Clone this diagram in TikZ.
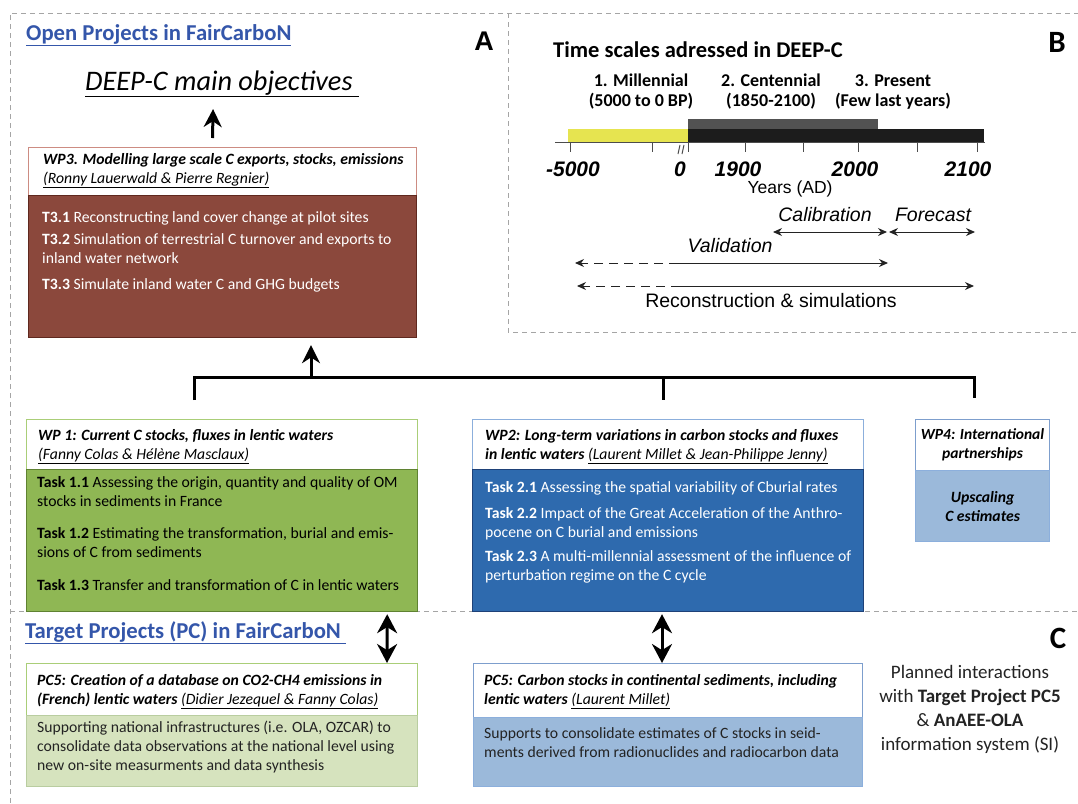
\documentclass[tikz,border=0pt]{standalone}
\usepackage{fontspec}
\setmainfont{Carlito}
\newfontfamily\arialfont{Liberation Sans}
\usetikzlibrary{arrows.meta,positioning,calc}

\definecolor{linkblue}{RGB}{52,86,170}
\definecolor{panelgrey}{RGB}{165,165,165}
\definecolor{wp3fill}{RGB}{139,72,60}
\definecolor{wp3edge}{RGB}{95,40,30}
\definecolor{wp3line}{RGB}{205,140,130}
\definecolor{wp1fill}{RGB}{143,183,84}
\definecolor{wp1edge}{RGB}{95,130,50}
\definecolor{wp1line}{RGB}{170,206,120}
\definecolor{wp2fill}{RGB}{46,106,174}
\definecolor{wp2edge}{RGB}{30,65,120}
\definecolor{wp2line}{RGB}{140,175,220}
\definecolor{lightblue}{RGB}{155,185,218}
\definecolor{lightblueedge}{RGB}{125,158,205}
\definecolor{lightgreen}{RGB}{214,227,190}
\definecolor{lightgreenedge}{RGB}{185,205,160}
\definecolor{millyellow}{RGB}{230,228,80}
\definecolor{centgrey}{RGB}{82,82,82}
\definecolor{presblack}{RGB}{28,28,28}
\definecolor{textgrey}{RGB}{35,35,35}

\begin{document}
\begin{tikzpicture}[x=1pt, y=-1pt,
    panel/.style={draw=panelgrey, dash pattern=on 5pt off 4pt, line width=1pt},
    headbox/.style={draw, fill=white, line width=1pt, anchor=north west, inner sep=0pt},
    bodybox/.style={draw, line width=1.2pt, anchor=north west, inner sep=0pt},
    headtext/.style={anchor=north west, align=left, inner sep=0pt, font=\fontsize{15.7}{19}\selectfont},
    bodytext/.style={anchor=north west, align=left, inner sep=0pt, font=\fontsize{15.7}{19}\selectfont},
    linktitle/.style={anchor=base west, inner sep=0pt, text=linkblue, font=\fontsize{22.7}{26}\selectfont\bfseries},
    panelletter/.style={anchor=base, inner sep=0pt, font=\fontsize{31}{31}\selectfont\bfseries},
    bigarrow/.style={line width=3pt, -{Stealth[length=18pt,width=18pt]}},
    dblarrow/.style={line width=3pt, {Stealth[length=19pt,width=20pt]}-{Stealth[length=19pt,width=20pt]}},
    bracket/.style={line width=3pt},
    axtick/.style={draw=gray!60!black, line width=1pt},
    yearlabel/.style={anchor=base, inner sep=0pt, font=\arialfont\fontsize{21}{21}\selectfont\bfseries\itshape},
    phaselabel/.style={anchor=base, align=center, inner sep=0pt, font=\fontsize{18}{20}\selectfont\bfseries},
    spanlabel/.style={anchor=base, inner sep=0pt, font=\arialfont\fontsize{19.5}{20}\selectfont\itshape},
    tlarrow/.style={line width=1pt, draw=textgrey, -{Stealth[length=9pt,width=8pt]}},
    tlboth/.style={line width=1pt, draw=textgrey, {Stealth[length=9pt,width=8pt]}-{Stealth[length=9pt,width=8pt]}},
    tldash/.style={dash pattern=on 9pt off 6pt},
  ]
  \useasboundingbox (0,0) rectangle (1078,803);

  % panel borders
  \draw[panel] (10,803) -- (10,13) -- (1078,13);
  \draw[panel] (508,13) -- (508,332) -- (1078,332);
  \draw[panel] (10,611) -- (1078,611);

  % ---- panel A ----
  \node[linktitle] (openproj) at (26,40) {\underline{Open Projects in FairCarboN}};
  \node[anchor=base, inner sep=0pt, font=\arialfont\fontsize{27}{27}\selectfont\bfseries] (letterA) at (484,50) {A};
  \node[anchor=base west, inner sep=0pt, font=\fontsize{28.3}{30}\selectfont\itshape] (title) at (85,90) {\underline{DEEP-C main objectives\ }};

  \node[headbox, draw=wp3line, minimum width=388pt, minimum height=48pt] (wp3head) at (28,147) {};
  \node[bodybox, draw=wp3edge, fill=wp3fill, minimum width=388pt, minimum height=142pt] (wp3body) at (28,195) {};
  \node[headtext] (wp3title) at ($(wp3head.north west)+(15,6)$)
    {\textbf{\textit{WP3. Modelling large scale C exports, stocks, emissions}}\\
     \textit{\underline{(Ronny Lauerwald \& Pierre Regnier)}}};
  \node[bodytext, text=white] (wp3tasks) at ($(wp3body.north west)+(14,16)$)
    {\textbf{T3.1} Reconstructing land cover change at pilot sites\\[3pt]
     \textbf{T3.2} Simulation of terrestrial C turnover and exports to\\
     inland water network\\[7pt]
     \textbf{T3.3} Simulate inland water C and GHG budgets};

  \draw[bigarrow] ($(wp3head.north)+(-10,-9)$) -- ($(title.south)+(-9,12)$);

  % ---- panel B: time scales ----
  \node[anchor=base west, inner sep=0pt, font=\fontsize{22.5}{24}\selectfont\bfseries] (scaletitle) at (553,57) {Time scales adressed in DEEP-C};
  \node[panelletter] (letterB) at (1057,52) {B};

  \node[phaselabel] (millennial) at (641,106) {1. Millennial\\(5000 to 0 BP)};
  \node[phaselabel] (centennial) at (771,106) {2. Centennial\\(1850-2100)};
  \node[phaselabel] (present) at (893,106) {3. Present\\(Few last years)};

  \draw[axtick] (555,142) -- (985,142);
  \fill[millyellow] (568,129) rectangle (688,142);
  \fill[centgrey] (688,119) rectangle (878,129);
  \fill[presblack] (688,129) rectangle (984,142);
  \foreach \tx in {570,652,688,745,803,858,917,977}
    \draw[axtick] (\tx,142) -- (\tx,152);
  \draw[axtick] (680,145) -- (678,154);
  \draw[axtick] (684,145) -- (682,154);

  \node[yearlabel] (y5000) at (573,176) {-5000};
  \node[yearlabel] (y0) at (680,176) {0};
  \node[yearlabel] (y1900) at (738,176) {1900};
  \node[yearlabel] (y2000) at (855,176) {2000};
  \node[yearlabel] (y2100) at (968,176) {2100};
  \node[anchor=base, inner sep=0pt, font=\arialfont\fontsize{17.5}{17}\selectfont] (yearsad) at (790,193) {Years (AD)};

  \node[spanlabel] (calib) at (825,221) {Calibration};
  \node[spanlabel] (forecast) at (933,221) {Forecast};
  \node[spanlabel] (valid) at (730,252) {Validation};
  \node[anchor=base, inner sep=0pt, font=\arialfont\fontsize{19.5}{20}\selectfont] (recon) at (771,307) {Reconstruction \& simulations};

  \coordinate (calL) at (773,232);
  \coordinate (calR) at (887,232);
  \coordinate (fcL) at (889,232);
  \coordinate (fcR) at (975,232);
  \coordinate (valL) at (575,263);
  \coordinate (valM) at (678,263);
  \coordinate (valR) at (888,263);
  \coordinate (recL) at (577,286);
  \coordinate (recM) at (680,286);
  \coordinate (recR) at (974,286);
  \draw[tlboth] (calL) -- (calR);
  \draw[tlboth] (fcL) -- (fcR);
  \draw[tlarrow, tldash] (valM) -- (valL);
  \draw[tlarrow] (valM) -- (valR);
  \draw[tlarrow, tldash] (recM) -- (recL);
  \draw[tlarrow] (recM) -- (recR);

  % ---- work packages ----
  \node[headbox, draw=wp1line, minimum width=391pt, minimum height=50pt] (wp1head) at (26,419) {};
  \node[bodybox, draw=wp1edge, fill=wp1fill, minimum width=391pt, minimum height=142pt] (wp1body) at (26,469) {};
  \node[headtext] (wp1title) at ($(wp1head.north west)+(12,10)$)
    {\textbf{\textit{WP 1: Current C stocks, fluxes in lentic waters}}\\
     \textit{\underline{(Fanny Colas \& Hélène Masclaux)}}};
  \node[bodytext, text=black] (wp1tasks) at ($(wp1body.north west)+(11,7)$)
    {\textbf{Task 1.1} Assessing the origin, quantity and quality of OM\\
     stocks in sediments in France\\[13pt]
     \textbf{Task 1.2} Estimating the transformation, burial and emis-\\
     sions of C from sediments\\[14pt]
     \textbf{Task 1.3} Transfer and transformation of C in lentic waters};

  \node[headbox, draw=wp2line, minimum width=391pt, minimum height=50pt] (wp2head) at (472,419) {};
  \node[bodybox, draw=wp2edge, fill=wp2fill, minimum width=391pt, minimum height=142pt] (wp2body) at (472,469) {};
  \node[headtext] (wp2title) at ($(wp2head.north west)+(13,10)$)
    {\textbf{\textit{WP2: Long-term variations in carbon stocks and fluxes}}\\
     \textbf{\textit{in lentic waters}} \textit{\underline{(Laurent Millet \& Jean-Philippe Jenny)}}};
  \node[bodytext, text=white] (wp2tasks) at ($(wp2body.north west)+(13,12)$)
    {\textbf{Task 2.1} Assessing the spatial variability of Cburial rates\\[7pt]
     \textbf{Task 2.2} Impact of the Great Acceleration of the Anthro-\\
     pocene on C burial and emissions\\[5pt]
     \textbf{Task 2.3} A multi-millennial assessment of the influence of\\
     perturbation regime on the C cycle};

  \node[headbox, draw=lightblueedge, minimum width=134pt, minimum height=51pt, align=center,
        font=\fontsize{15.5}{19}\selectfont\bfseries\itshape] (wp4head) at (915,419)
    {WP4: International\\partnerships};
  \node[bodybox, draw=wp2line, fill=lightblue, minimum width=134pt, minimum height=71pt, align=center,
        font=\fontsize{15.7}{19}\selectfont\bfseries\itshape] (wp4body) at (915,470)
    {Upscaling\\C estimates};

  % bracket gathering the work packages into WP3
  \coordinate (brkL) at (194,377);
  \coordinate (brkM) at (663,377);
  \coordinate (brkR) at (974,377);
  \coordinate (brkUp) at (311,377);
  \draw[bracket] (brkL |- wp1head.north) ++(0,-19) -- (brkL) -- (brkR) -- ++(0,21);
  \draw[bracket] (brkM) -- ++(0,23);
  \draw[bigarrow, shorten >=7pt] (brkUp) -- (brkUp |- wp3body.south);

  % ---- panel C: target projects ----
  \node[linktitle] (targetproj) at (25,638) {\underline{Target Projects (PC) in FairCarboN\ }};
  \node[panelletter] (letterC) at (1058,648) {C};

  \node[headbox, draw=wp1line, minimum width=391pt, minimum height=52pt] (pc5lhead) at (26,663) {};
  \node[bodybox, draw=lightgreenedge, fill=lightgreen, minimum width=391pt, minimum height=71pt] (pc5lbody) at (26,715) {};
  \node[headtext] (pc5ltitle) at ($(pc5lhead.north west)+(11,11)$)
    {\textbf{\textit{PC5: Creation of a database on CO2-CH4 emissions in}}\\
     \textbf{\textit{(French) lentic waters}} \textit{\underline{(Didier Jezequel \& Fanny Colas)}}};
  \node[bodytext, text=textgrey] (pc5ltext) at ($(pc5lbody.north west)+(11,6)$)
    {Supporting national infrastructures (i.e. OLA, OZCAR) to\\
     consolidate data observations at the national level using\\
     new on-site measurments and data synthesis};

  \node[headbox, draw=lightblueedge, minimum width=389pt, minimum height=54pt] (pc5rhead) at (473,663) {};
  \node[bodybox, draw=wp2line, fill=lightblue, minimum width=389pt, minimum height=69pt] (pc5rbody) at (473,717) {};
  \node[headtext] (pc5rtitle) at ($(pc5rhead.north west)+(11,11)$)
    {\textbf{\textit{PC5: Carbon stocks in continental sediments, including}}\\
     \textbf{\textit{lentic waters}} \textit{\underline{(Laurent Millet)}}};
  \node[bodytext, text=textgrey] (pc5rtext) at ($(pc5rbody.north west)+(11,10)$)
    {Supports to consolidate estimates of C stocks in seid-\\
     ments derived from radionuclides and radiocarbon data};

  \node[anchor=base, align=center, inner sep=0pt, text=textgrey, font=\fontsize{19}{24}\selectfont] (interactions) at (970,750)
    {Planned interactions\\
     with \textbf{Target Project PC5}\\
     \& \textbf{AnAEE-OLA}\\
     information system (SI)};

  \draw[dblarrow] ($(wp1body.south east)+(-31,2)$) -- ($(pc5lhead.north east)+(-31,0)$);
  \draw[dblarrow] ($(wp2body.south west)+(190,2)$) -- ($(pc5rhead.north west)+(189,0)$);
\end{tikzpicture}
\end{document}
